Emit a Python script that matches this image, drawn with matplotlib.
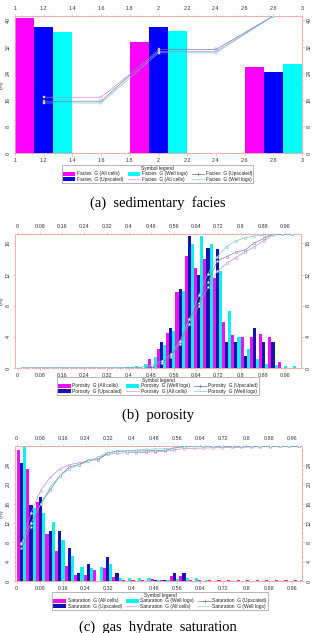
import matplotlib
matplotlib.use('Agg')
import matplotlib.pyplot as plt
import numpy as np
from matplotlib.ticker import AutoMinorLocator
from matplotlib.patches import Patch
from matplotlib.lines import Line2D

# ---------------- data ----------------
# (a) sedimentary facies : 5 bins of width 0.4 between 1 and 3
facies_edges = [1.0, 1.4, 1.8, 2.2, 2.6, 3.0]
facies_all = [40.7, 0.0, 33.4, 0.0, 25.9]
facies_ups = [37.8, 0.0, 37.8, 0.0, 24.4]
facies_well = [36.5, 0.0, 36.6, 0.0, 26.9]
facies_xticks = [1.0, 1.2, 1.4, 1.6, 1.8, 2.0, 2.2, 2.4, 2.6, 2.8, 3.0]
facies_xlabels = ["1", "1.2", "1.4", "1.6", "1.8", "2", "2.2", "2.4", "2.6", "2.8", "3"]
facies_yticks = [0, 8, 16, 24, 32, 40]

# (b) porosity : 30 bins between 0 and 1
por_all = [0, 0, 0, 0, 0, 0, 0, 0, 0, 0, 0, 0, 0, 0, 1.1, 2.4, 4.5, 9.8, 14.4, 12.8,
           14.0, 11.5, 5.9, 4.2, 4.0, 4.0, 4.4, 4.0, 0.8, 0]
por_ups = [0, 0, 0, 0, 0, 0, 0, 0, 0, 0, 0, 0, 0.15, 0, 0.2, 3.3, 5.1, 10.1, 17.0, 11.9,
           15.4, 15.3, 3.3, 3.3, 1.6, 5.1, 3.3, 3.3, 0, 0]
por_well = [0, 0, 0, 0, 0, 0, 0, 0, 0, 0, 0, 0.1, 0.2, 0.45, 1.4, 3.0, 4.8, 9.9, 15.9, 17.0,
            15.9, 12.4, 7.3, 4.0, 2.4, 1.2, 0.55, 0.4, 0.25, 0.3]
frac_xticks = [0, 0.08, 0.16, 0.24, 0.32, 0.4, 0.48, 0.56, 0.64, 0.72, 0.8, 0.88, 0.96]
frac_xlabels = ["0", "0.08", "0.16", "0.24", "0.32", "0.4", "0.48", "0.56", "0.64",
                "0.72", "0.8", "0.88", "0.96"]
por_yticks = [0, 4, 8, 12, 16]

# (c) gas hydrate saturation : 30 bins between 0 and 1
sat_all = [27.0, 23.2, 16.4, 9.7, 6.25, 3.1, 1.25, 1.25, 2.3, 2.7, 0.9, 0.3, 0.2, 0.25, 0.35,
           0.3, 1.0, 1.0, 0.2, 0.2, 0.15, 0.15, 0.15, 0.15, 0.15, 0.15, 0.15, 0.15, 0.15, 0.15]
sat_ups = [24.3, 15.7, 17.3, 10.4, 10.4, 6.9, 1.6, 3.5, 0, 5.0, 1.65, 0, 0, 0, 0.3,
           0.2, 1.6, 1.6, 0, 0, 0, 0, 0, 0, 0, 0, 0, 0, 0, 0]
sat_well = [27.8, 15.0, 14.1, 12.2, 8.45, 5.15, 2.95, 2.6, 2.9, 3.6, 0.7, 0.55, 0.55, 0.55, 0.3,
            0.2, 0.5, 0.55, 0.55, 0.2, 0, 0, 0, 0, 0, 0, 0, 0, 0, 0.2]
sat_yticks = [0, 4, 8, 12, 16, 20, 24]

# ---------------- style ----------------
W, H = 316, 633
fig = plt.figure(figsize=(W / 100, H / 100), dpi=100)
plt.rcParams['font.family'] = ['Liberation Sans', 'DejaVu Sans']

SPINE = '#f2a0a0'
TXT = '#333333'
LC_ALL = '#c080d0'
LC_UPS = '#7070a8'
LC_WELL = '#60c8c8'
TICK_FS = 3.9
CAP_FS = 10.5


def px_axes(l, r, t, b):
    return fig.add_axes([l / W, 1 - b / H, (r - l) / W, (b - t) / H])


def style_axes(ax, xticks, xlabels, yticks, xlim, ylim):
    ax.set_xlim(*xlim)
    ax.set_ylim(*ylim)
    for s in ax.spines.values():
        s.set_color(SPINE)
        s.set_linewidth(0.6)
        s.set_linestyle((0, (2, 1)))
    ax.set_xticks(xticks)
    ax.set_xticklabels(xlabels)
    ax.set_yticks(yticks)
    ax.set_yticklabels([str(v) for v in yticks])
    ax.xaxis.set_minor_locator(AutoMinorLocator(5))
    ax.yaxis.set_minor_locator(AutoMinorLocator(4))
    ax.tick_params(which='both', direction='out', color=SPINE, width=0.4,
                   top=True, right=True, labeltop=True, labelright=True,
                   labelsize=TICK_FS, labelcolor=TXT, pad=1.5)
    ax.tick_params(which='major', length=1.8)
    ax.tick_params(which='minor', length=1.0)
    ax.tick_params(axis='y', which='major', labelrotation=90)
    for lab in ax.yaxis.get_ticklabels(which='major'):
        lab.set_verticalalignment('center')
    ax.set_ylabel('(%)', fontsize=TICK_FS, color=TXT, labelpad=1)


def draw_panel(ax, edges, all_v, ups_v, well_v, cols, marker):
    edges = np.asarray(edges)
    lo = edges[:-1]
    wbin = np.diff(edges)
    bw = wbin / 3
    ax.bar(lo, all_v, width=bw, align='edge', color=cols[0], linewidth=0, zorder=2)
    ax.bar(lo + bw, ups_v, width=bw, align='edge', color=cols[1], linewidth=0, zorder=2)
    ax.bar(lo + 2 * bw, well_v, width=bw, align='edge', color=cols[2], linewidth=0, zorder=2)
    centers = lo + wbin / 2
    ax2 = ax.twinx()
    ax2.set_ylim(0, 100)
    ax2.set_yticks([])
    for s in ax2.spines.values():
        s.set_visible(False)
    for vals, c in ((all_v, LC_ALL), (ups_v, LC_UPS), (well_v, LC_WELL)):
        cum = np.cumsum(vals)
        cum = cum / cum[-1] * 100
        ax2.plot(centers, cum, color=c, lw=0.45, marker=marker, ms=1.6,
                 mfc='white', mec=c, mew=0.35, zorder=3)
    return ax2


def add_legend(cols, name, cx, top):
    handles = [
        Patch(facecolor=cols[0], label=f'{name}  G (All cells)'),
        Patch(facecolor=cols[1], label=f'{name}  G (Upscaled)'),
        Patch(facecolor=cols[2], label=f'{name}  G (Well logs)'),
        Line2D([], [], color=LC_ALL, lw=0.5, ls=(0, (3, 1)), label=f'{name}  G (All cells)'),
        Line2D([], [], color=LC_UPS, lw=0.5, marker='+', ms=2.2, mew=0.4,
               label=f'{name}  G (Upscaled)'),
        Line2D([], [], color=LC_WELL, lw=0.5, ls=(0, (3, 1)), label=f'{name}  G (Well logs)'),
    ]
    leg = fig.legend(handles=handles, loc='upper center', bbox_to_anchor=(cx / W, 1 - top / H),
                     ncol=3, title='Symbol legend', fontsize=3.5, title_fontsize=3.5,
                     frameon=True, fancybox=False, edgecolor='#999999', framealpha=1,
                     borderpad=0.25, labelspacing=0.05, handlelength=2.6, handleheight=0.9,
                     handletextpad=0.3, columnspacing=0.9, borderaxespad=0)
    leg.get_frame().set_linewidth(0.5)
    for t in leg.get_texts():
        t.set_color('#222222')
    leg.get_title().set_color('#222222')


# ---------------- panel a ----------------
cols_a = ['#ff00ff', '#0000ff', '#00ffff']
axa = px_axes(15, 302, 16, 153)
draw_panel(axa, facies_edges, facies_all, facies_ups, facies_well, cols_a, 's')
style_axes(axa, facies_xticks, facies_xlabels, facies_yticks, (1, 3), (0, 41.2))
add_legend(cols_a, 'Facies', 157.5, 165)
fig.text(0.5, 1 - 203 / H, '(a)  sedimentary  facies', ha='center', va='center',
         fontsize=CAP_FS, family='Liberation Serif')

# ---------------- panel b ----------------
cols_bc = ['#ee10ee', '#1414b4', '#10f0f0']
frac_edges = np.linspace(0, 1, 31)
axb = px_axes(15, 301, 234, 368)
draw_panel(axb, frac_edges, por_all, por_ups, por_well, cols_bc, 'o')
style_axes(axb, frac_xticks, frac_xlabels, por_yticks, (-0.009, 1.017), (0, 17.2))
add_legend(cols_bc, 'Porosity', 158, 377)
fig.text(0.5, 1 - 415 / H, '(b)  porosity', ha='center', va='center',
         fontsize=CAP_FS, family='Liberation Serif')

# ---------------- panel c ----------------
axc = px_axes(15, 302, 446, 581)
draw_panel(axc, frac_edges, sat_all, sat_ups, sat_well, cols_bc, 'o')
style_axes(axc, frac_xticks, frac_xlabels, sat_yticks, (-0.006, 0.995), (0, 27.9))
add_legend(cols_bc, 'Saturation', 160, 592)
fig.text(0.5, 1 - 627 / H, '(c)  gas  hydrate  saturation', ha='center', va='center',
         fontsize=CAP_FS, family='Liberation Serif')

fig.savefig('out.png', dpi=100)
